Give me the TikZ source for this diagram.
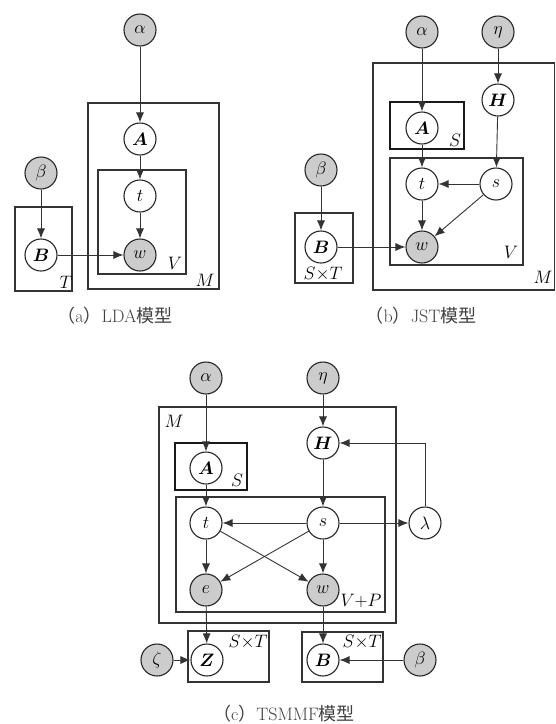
\RequirePackage{fix-cm}
\documentclass[tikz,border=0pt]{standalone}
\usepackage{fontspec}
\usepackage{amsmath}
\usetikzlibrary{arrows.meta}
\newfontfamily\cjk{Noto Sans CJK SC}
\tikzset{
  var/.style={circle, draw=black!85, line width=1.1pt, minimum size=32pt, inner sep=0pt, fill=white, font=\fontsize{18}{20}\selectfont},
  obs/.style={var, fill=black!20},
  plate/.style={draw=black!80, line width=1.2pt},
  splate/.style={draw=black!90, line width=2pt},
  arr/.style={draw=black!80, line width=0.9pt, -{Latex[length=10pt,width=8pt]}},
  lbl/.style={inner sep=0pt, font=\fontsize{18}{20}\selectfont},
  captext/.style={inner sep=0pt, font=\fontsize{18}{20}\selectfont, text=black!75}
}
\begin{document}
\begin{tikzpicture}[x=1pt,y=-1pt]
\useasboundingbox (0,0) rectangle (556,724);
% ---------- (a) LDA ----------
\draw[plate] (88,103) rectangle (219,289);
\draw[plate] (98,170) rectangle (186,274);
\draw[plate] (15,207) rectangle (72,291);
\node[obs] (alphaa) at (140,30) {$\alpha$};
\node[var] (Aa) at (140,139) {$\boldsymbol{A}$};
\node[var] (ta) at (140,196) {$t$};
\node[obs] (wa) at (140,255) {$w$};
\node[obs] (betaa) at (41,173) {$\beta$};
\node[var] (Ba) at (41,255) {$\boldsymbol{B}$};
\node[lbl] (Ta) at (66,282) {$T$};
\node[lbl] (Va) at (175,263) {$V$};
\node[lbl] (Ma) at (205,280) {$M$};
\draw[arr] (alphaa) -- (Aa);
\draw[arr] (Aa) -- (ta);
\draw[arr] (ta) -- (wa);
\draw[arr] (betaa) -- (Ba);
\draw[arr] (Ba) -- (wa);
\node[captext] (capa) at (115,316) {{\cjk （}a{\cjk ）}LDA{\cjk 模型}};
% ---------- (b) JST ----------
\draw[plate] (373,63) rectangle (554.5,290);
\draw[splate] (390,102) rectangle (464,149);
\draw[plate] (390,158) rectangle (523,265);
\draw[plate] (295,213) rectangle (353,283);
\node[obs] (alphab) at (422,32) {$\alpha$};
\node[obs] (etab) at (498,32) {$\eta$};
\node[var] (Hb) at (498,100) {$\boldsymbol{H}$};
\node[var] (Ab) at (422,128) {$\boldsymbol{A}$};
\node[var] (tb) at (422,184) {$t$};
\node[var] (sb) at (496,184) {$s$};
\node[obs] (wb) at (422,247) {$w$};
\node[obs] (betab) at (321,170) {$\beta$};
\node[var] (Bb) at (321,247) {$\boldsymbol{B}$};
\node[lbl] (Sb) at (455,140) {$S$};
\node[lbl] (Vb) at (511,252) {$V$};
\node[lbl] (Mb) at (543,277) {$M$};
\node[lbl] (STb) at (323,274) {$S{\times}T$};
\draw[arr] (alphab) -- (Ab);
\draw[arr] (etab) -- (Hb);
\draw[arr] (Ab) -- (tb);
\draw[arr] (Hb) -- (sb);
\draw[arr] (sb) -- (tb);
\draw[arr] (tb) -- (wb);
\draw[arr] (sb) -- (wb);
\draw[arr] (betab) -- (Bb);
\draw[arr] (Bb) -- (wb);
\node[captext] (capb) at (421,316) {{\cjk （}b{\cjk ）}JST{\cjk 模型}};
% ---------- (c) TSMMF ----------
\draw[plate] (159,407) rectangle (396,623);
\draw[splate] (175,443) rectangle (247,490);
\draw[plate] (176,497) rectangle (385,612);
\draw[plate] (188,631) rectangle (269,682);
\draw[plate] (302,632) rectangle (383,682);
\node[obs] (alphac) at (206,378) {$\alpha$};
\node[obs] (etac) at (323,378) {$\eta$};
\node[var] (Hc) at (323,443) {$\boldsymbol{H}$};
\node[var] (Ac) at (206,468) {$\boldsymbol{A}$};
\node[var] (tc) at (206,523) {$t$};
\node[var] (sc) at (323,523) {$s$};
\node[var] (lam) at (425,523) {$\lambda$};
\node[obs] (ec) at (206,590) {$e$};
\node[obs] (wc) at (323,590) {$w$};
\node[var] (Zc) at (207,660) {$\boldsymbol{Z}$};
\node[obs] (zeta) at (157,660) {$\zeta$};
\node[var] (Bc) at (323,660) {$\boldsymbol{B}$};
\node[obs] (betac) at (420,660) {$\beta$};
\node[lbl] (Mc) at (174,421) {$M$};
\node[lbl] (Sc) at (237,480) {$S$};
\node[lbl] (VPc) at (361,601) {$V{+}P$};
\node[lbl] (STc1) at (248,642) {$S{\times}T$};
\node[lbl] (STc2) at (362,642) {$S{\times}T$};
\draw[arr] (alphac) -- (Ac);
\draw[arr] (etac) -- (Hc);
\draw[arr] (Ac) -- (tc);
\draw[arr] (Hc) -- (sc);
\draw[arr] (sc) -- (tc);
\draw[arr] (sc) -- (lam);
\draw[arr] (lam) |- (Hc);
\draw[arr] (tc) -- (ec);
\draw[arr] (tc) -- (wc);
\draw[arr] (sc) -- (ec);
\draw[arr] (sc) -- (wc);
\draw[arr] (ec) -- (Zc);
\draw[arr] (wc) -- (Bc);
\draw[arr] (zeta) -- (Zc);
\draw[arr] (betac) -- (Bc);
\node[captext] (capc) at (284,714) {{\cjk （}c{\cjk ）}TSMMF{\cjk 模型}};
\end{tikzpicture}
\end{document}
